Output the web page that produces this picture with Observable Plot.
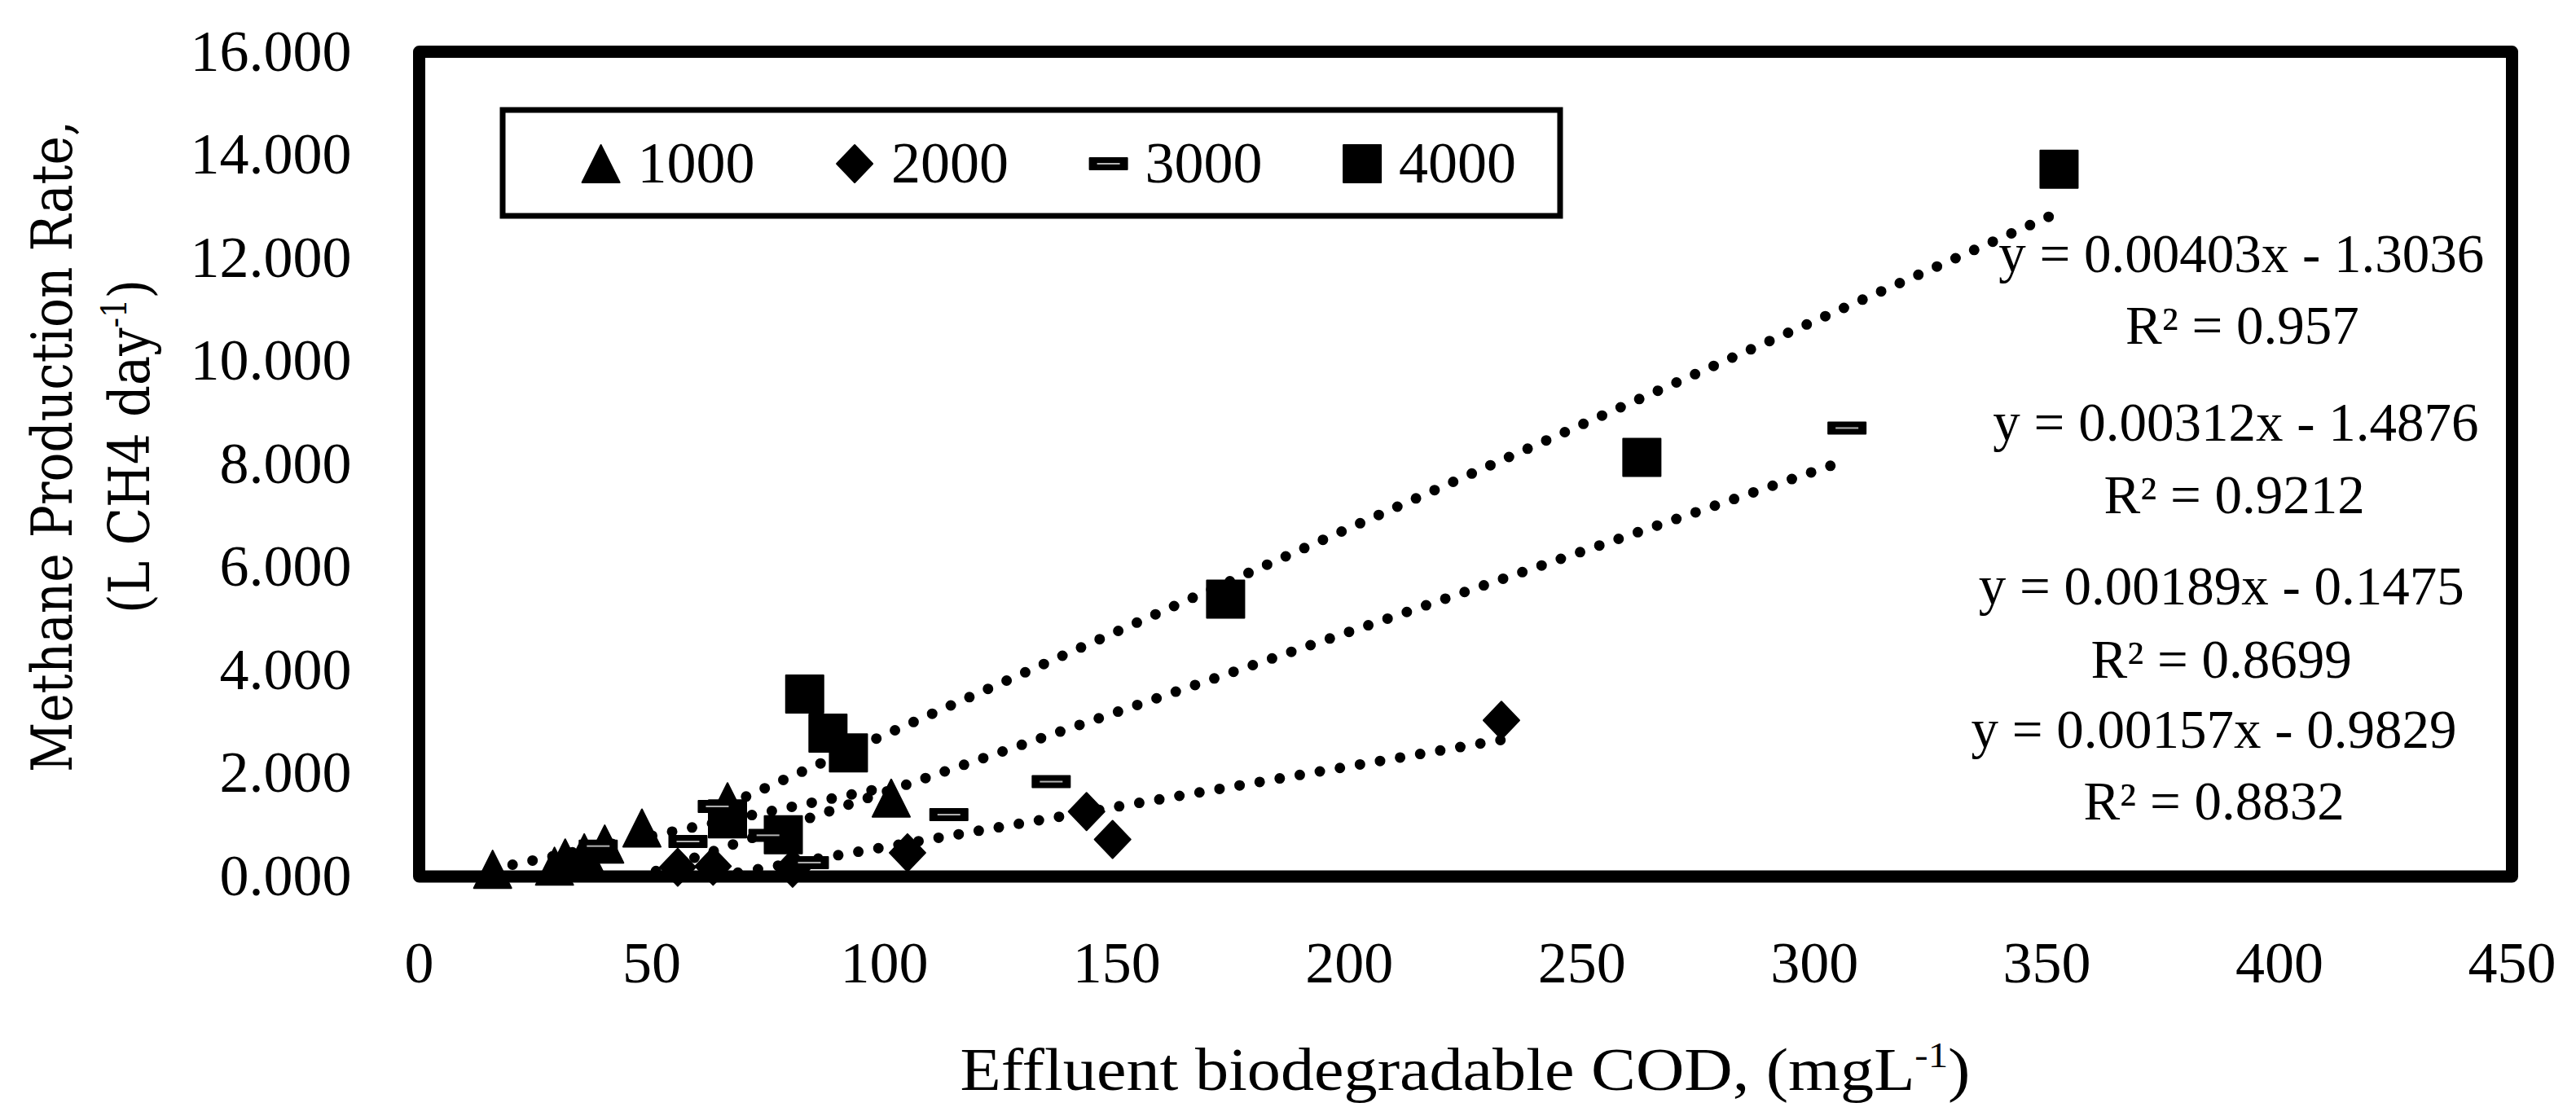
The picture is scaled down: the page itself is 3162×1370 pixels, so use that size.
<!DOCTYPE html>
<html lang="en">
<head>
<meta charset="UTF-8">
<title>Methane production rate vs effluent biodegradable COD</title>
<script src="https://cdn.jsdelivr.net/npm/d3@7"></script>
<script src="https://cdn.jsdelivr.net/npm/@observablehq/plot@0.6"></script>
<style>
  html, body { margin: 0; padding: 0; background: #fff; }
  #chart svg { display: block; }
</style>
</head>
<body>
<div id="chart"></div>
<script>
// influent strength of each series (legend names)
const seriesNames = ["1000", "2000", "3000", "4000"];

// effluent biodegradable COD (mg/L) and methane rate (L CH4/day)
const cod1000 = [15.8, 29.1, 31.4, 35.5, 39.9, 47.9, 66.3, 101.5];
const ch41000 = [0.14, 0.20, 0.36, 0.46, 0.63, 0.94, 1.45, 1.52];
const cod2000 = [55.6, 63.2, 80.3, 105.0, 143.5, 149.1, 232.7];
const ch42000 = [0.18, 0.20, 0.16, 0.46, 1.26, 0.72, 3.03];
const cod3000 = [38.5, 57.8, 64.1, 75.0, 83.9, 113.9, 135.9, 307.0];
const ch43000 = [0.59, 0.68, 1.36, 0.80, 0.27, 1.20, 1.84, 8.70];
const cod4000 = [66.3, 78.3, 82.9, 87.9, 92.3, 173.4, 262.9, 352.6];
const ch44000 = [1.12, 0.81, 3.54, 2.78, 2.40, 5.38, 8.13, 13.72];

const xTicks = [0, 50, 100, 150, 200, 250, 300, 350, 400, 450];
const yTicks = [0, 2, 4, 6, 8, 10, 12, 14, 16];

// trendline labels as printed on the chart
const trendLabels = [
  "y = 0.00403x - 1.3036", "R² = 0.957",
  "y = 0.00312x - 1.4876", "R² = 0.9212",
  "y = 0.00189x - 0.1475", "R² = 0.8699",
  "y = 0.00157x - 0.9829", "R² = 0.8832"
];
// where those labels sit, in data units
const labelX = [391.8, 392.0, 390.6, 390.3, 387.5, 387.5, 385.9, 385.9];
const labelY = [12.07, 10.67, 8.79, 7.38, 5.62, 4.20, 2.83, 1.44];

const rows = (name, xs, ys) => xs.map((x, i) => ({series: name, x, y: ys[i]}));
const points = [
  ...rows(seriesNames[0], cod1000, ch41000),
  ...rows(seriesNames[1], cod2000, ch42000),
  ...rows(seriesNames[2], cod3000, ch43000),
  ...rows(seriesNames[3], cod4000, ch44000)
];

// excel-like markers
const triangle = {draw(c) { c.moveTo(0, -23); c.lineTo(23, 23); c.lineTo(-23, 23); c.closePath(); }};
const diamond = {draw(c) { c.moveTo(0, -23); c.lineTo(22, 0); c.lineTo(0, 23); c.lineTo(-22, 0); c.closePath(); }};
const dash = {draw(c) { c.rect(-23, -7, 46, 14); }};
const square = {draw(c) { c.rect(-23, -23, 46, 46); }};
const dashLine = {draw(c) { c.moveTo(-14, 0); c.lineTo(14, 0); }};
const symbols = [triangle, diamond, dash, square];

const markOpts = {x: "x", y: "y", fill: "black", stroke: "black", strokeWidth: 2, strokeLinejoin: "round"};

const chart = Plot.plot({
  width: 3162,
  height: 1370,
  marginLeft: 514,
  marginRight: 79,
  marginTop: 63,
  marginBottom: 294.5,
  x: {domain: [0, 450]},
  y: {domain: [0, 16]},
  style: {fontFamily: "'Liberation Serif', serif", fontSize: "72px", color: "black", background: "white"},
  marks: [
    Plot.axisX({ticks: xTicks, tickSize: 0, tickPadding: 79, label: null}),
    Plot.axisY({ticks: yTicks, tickSize: 0, tickPadding: 83, tickFormat: d3.format(".3f"), label: null}),
    Plot.linearRegressionY(points, {
      x: "x", y: "y", z: "series", ci: 0,
      stroke: "black", strokeWidth: 13, strokeDasharray: "0 25", strokeLinecap: "round", clip: true
    }),
    ...seriesNames.map((s, i) => Plot.dot(points.filter(d => d.series === s), {...markOpts, symbol: symbols[i]})),
    Plot.dot(points.filter(d => d.series === "3000"), {x: "x", y: "y", symbol: dashLine, fill: "none", stroke: "#b4b4b4", strokeWidth: 2}),
    Plot.text(trendLabels, {x: labelX, y: labelY, text: d => d, fontSize: 67, textAnchor: "middle", fill: "black"}),
    Plot.frame({stroke: "black", strokeWidth: 15, strokeLinejoin: "round"})
  ]
});

const svg = d3.select(chart);

// legend box
const legend = svg.append("g").attr("text-anchor", "start");
legend.append("rect")
  .attr("x", 617).attr("y", 135).attr("width", 1298).attr("height", 130)
  .attr("fill", "white").attr("stroke", "black").attr("stroke-width", 7);
seriesNames.forEach((s, i) => {
  const cx = 737.6 + 311.5 * i;
  legend.append("path")
    .attr("transform", `translate(${cx},201)`)
    .attr("d", d3.symbol(symbols[i])())
    .attr("fill", "black").attr("stroke", "black").attr("stroke-width", 2).attr("stroke-linejoin", "round");
  if (i === 2) {
    legend.append("path").attr("transform", `translate(${cx},201)`)
      .attr("d", d3.symbol(dashLine)()).attr("stroke", "#b4b4b4").attr("stroke-width", 2).attr("fill", "none");
  }
  legend.append("text")
    .attr("x", cx + 45).attr("y", 224)
    .attr("text-anchor", "start")
    .attr("font-size", 72).attr("fill", "black")
    .text(s);
});

// y axis title, two lines
svg.append("text")
  .attr("transform", "translate(88,548) rotate(-90)")
  .attr("text-anchor", "middle")
  .attr("font-family", "'DejaVu Serif', serif").attr("font-size", 70)
  .attr("textLength", 800).attr("lengthAdjust", "spacingAndGlyphs")
  .text("Methane Production Rate,");
const yTitle2 = svg.append("text")
  .attr("transform", "translate(183,548) rotate(-90)")
  .attr("text-anchor", "middle")
  .attr("font-family", "'DejaVu Serif', serif").attr("font-size", 70)
  .attr("textLength", 410).attr("lengthAdjust", "spacingAndGlyphs");
yTitle2.append("tspan").text("(L CH4 day");
yTitle2.append("tspan").attr("font-size", 42).attr("dy", -28).text("-1");
yTitle2.append("tspan").attr("dy", 28).text(")");

// x axis title
const xTitle = svg.append("text")
  .attr("x", 1798.5).attr("y", 1338)
  .attr("text-anchor", "middle")
  .attr("font-size", 74)
  .attr("textLength", 1240).attr("lengthAdjust", "spacingAndGlyphs");
xTitle.append("tspan").text("Effluent biodegradable COD, (mgL");
xTitle.append("tspan").attr("font-size", 44).attr("dy", -28).text("-1");
xTitle.append("tspan").attr("dy", 28).text(")");

document.querySelector("#chart").append(chart);
</script>
</body>
</html>
